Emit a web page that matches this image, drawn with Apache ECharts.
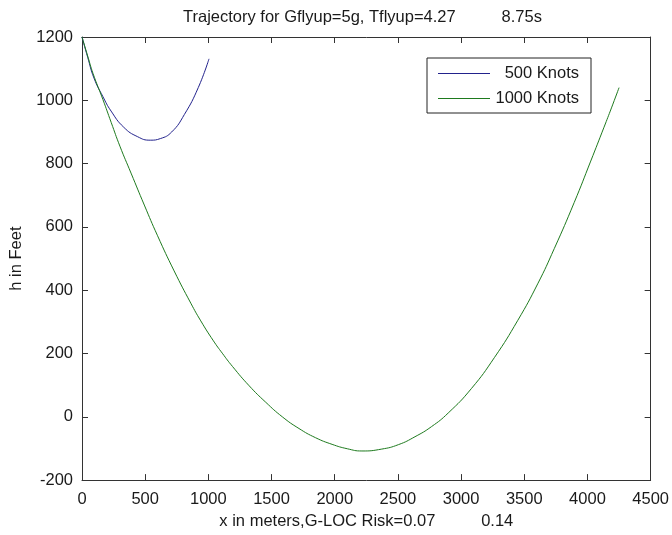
<!DOCTYPE html>
<html>
<head>
<meta charset="utf-8">
<script src="https://cdn.jsdelivr.net/npm/echarts@6/dist/echarts.min.js"></script>
<style>
html,body{margin:0;padding:0;background:#fff;}
#chart{width:672px;height:535px;}
</style>
</head>
<body>
<div id="chart"></div>
<script>
// ---- data ----
var titleText = 'Trajectory for Gflyup=5g, Tflyup=4.27          8.75s';
var xLabelText = 'x in meters,G-LOC Risk=0.07          0.14';
var yLabelText = 'h in Feet';
var seriesNames = ['500 Knots', '1000 Knots'];

var knots500X = [0, 45, 95, 165, 230, 330, 440, 540, 620, 710, 810, 920, 1005];
var knots500Y = [1200, 1136, 1070, 1012, 966, 915, 885, 874, 879, 900, 955, 1040, 1131];

var knots1000X = [0, 45, 87, 165, 231, 300, 388, 493, 598, 729, 861, 940, 1040, 1110, 1191, 1323, 1454, 1585, 1717, 1848, 1979, 2100, 2215, 2372, 2504, 2635, 2766, 2898, 3081, 3265, 3449, 3606, 3738, 3895, 4026, 4131, 4190, 4250];
var knots1000Y = [1200, 1140, 1085, 1003, 930, 855, 770, 669, 572, 461, 359, 303, 240, 201, 159, 98, 46, 0, -37, -66, -87, -101, -108, -102, -88, -63, -31, 12, 89, 188, 305, 420, 532, 677, 808, 915, 976, 1040];

var xMin = 0, xMax = 4500, xStep = 500;
var yMin = -200, yMax = 1200, yStep = 200;

function pairs(xs, ys) { return xs.map(function (x, i) { return [x, ys[i]]; }); }

var FONT = 'Liberation Sans, Arial, sans-serif';
var FS = 16.5;
var TXT = '#1a1a1a';
var AX = '#333333';
function plain(v) { return String(v); }

function axisCommon(extra) {
  var base = {
    type: 'value',
    axisLine: { show: true, onZero: false, lineStyle: { color: AX, width: 1 } },
    axisTick: { show: true, inside: true, length: 6, lineStyle: { color: AX, width: 1 } },
    splitLine: { show: false },
    axisLabel: { show: false }
  };
  for (var k in extra) base[k] = extra[k];
  return base;
}

var chart = echarts.init(document.getElementById('chart'), null, { renderer: 'canvas' });
chart.setOption({
  backgroundColor: '#ffffff',
  animation: false,
  title: {
    text: titleText,
    left: 183, top: 9, padding: 0,
    textStyle: { fontFamily: FONT, fontSize: FS, fontWeight: 'normal', color: TXT }
  },
  legend: {
    left: 427, top: 58,
    orient: 'vertical',
    padding: [7, 12, 6, 11],
    itemGap: 8,
    icon: 'rect',
    itemWidth: 52, itemHeight: 1, itemTextGap: 5,
    borderColor: '#222', borderWidth: 1,
    backgroundColor: '#fff',
    data: seriesNames,
    formatter: function (n) { return '{a|' + n + '}'; },
    textStyle: {
      fontFamily: FONT, fontSize: FS, color: TXT,
      rich: { a: { fontFamily: FONT, fontSize: FS, color: TXT, width: 84, align: 'right', lineHeight: 17 } }
    }
  },
  grid: { left: 82, right: 18.5, top: 37, bottom: 49, containLabel: false },
  xAxis: [
    axisCommon({
      position: 'bottom', min: xMin, max: xMax, interval: xStep,
      name: xLabelText, nameLocation: 'middle', nameGap: 29,
      nameTextStyle: { fontFamily: FONT, fontSize: FS, color: TXT },
      axisLabel: { show: true, margin: 11, fontFamily: FONT, fontSize: FS, color: TXT, formatter: plain }
    }),
    axisCommon({ position: 'top', min: xMin, max: xMax, interval: xStep })
  ],
  yAxis: [
    axisCommon({
      position: 'left', min: yMin, max: yMax, interval: yStep,
      name: yLabelText, nameLocation: 'middle', nameGap: 54, nameRotate: 90,
      nameTextStyle: { fontFamily: FONT, fontSize: FS, color: TXT },
      axisLabel: { show: true, margin: 9, fontFamily: FONT, fontSize: FS, color: TXT, formatter: plain }
    }),
    axisCommon({ position: 'right', min: yMin, max: yMax, interval: yStep })
  ],
  series: [
    {
      name: seriesNames[0], type: 'line', xAxisIndex: 0, yAxisIndex: 0,
      data: pairs(knots500X, knots500Y),
      symbol: 'none', smooth: 0.5,
      lineStyle: { color: '#22228c', width: 1 }, itemStyle: { color: '#22228c' }
    },
    {
      name: seriesNames[1], type: 'line', xAxisIndex: 0, yAxisIndex: 0,
      data: pairs(knots1000X, knots1000Y),
      symbol: 'none', smooth: 0.5,
      lineStyle: { color: '#1e7a1e', width: 1 }, itemStyle: { color: '#1e7a1e' }
    }
  ]
});
</script>
</body>
</html>
